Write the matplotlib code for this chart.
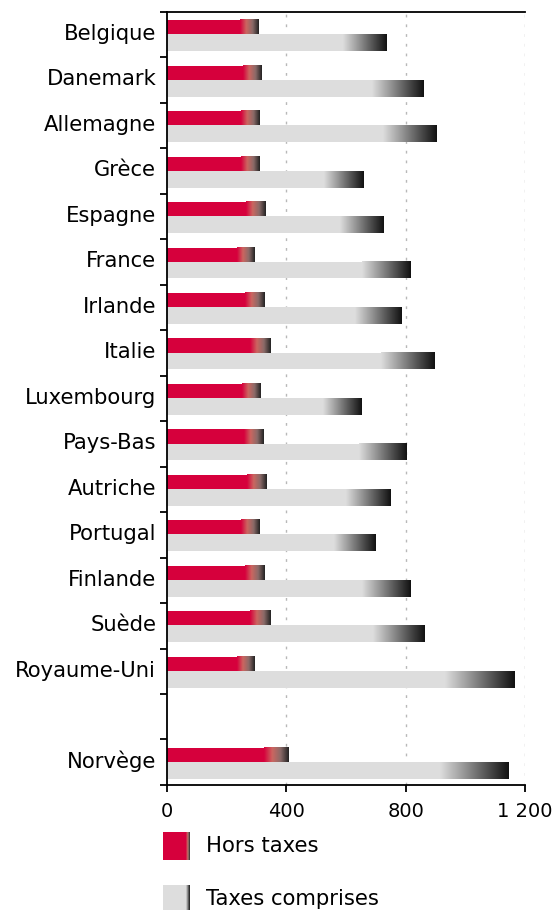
# encoding: utf-8
'''
Prix par pays : hors taxes / taxes comprises, barres horizontales groupées.
'''
import numpy as np
import matplotlib
matplotlib.use('Agg')
import matplotlib.pyplot as plt
from matplotlib.colors import LinearSegmentedColormap
from matplotlib.ticker import FixedLocator, FuncFormatter

countries = ['Belgique', 'Danemark', 'Allemagne', 'Grèce', 'Espagne', 'France',
             'Irlande', 'Italie', 'Luxembourg', 'Pays-Bas', 'Autriche', 'Portugal',
             'Finlande', 'Suède', 'Royaume-Uni', 'Norvège']
hors_taxes = [303, 317, 310, 308, 331, 291, 324, 345, 314, 321, 333, 308, 324, 345, 294, 404]
taxes_comprises = [738, 859, 906, 657, 723, 817, 788, 896, 654, 805, 748, 701, 818, 862, 1164, 1143]
x_ticks = [0, 400, 800, 1200]

RED = '#d6003c'
GREY = '#dddddd'
red_cmap = LinearSegmentedColormap.from_list('red_fade', [RED, '#cc6660', '#8a6a68', '#222222'])
grey_cmap = LinearSegmentedColormap.from_list('grey_fade', [GREY, '#9a9a9a', '#555555', '#111111'])
fade_start = 0.8

# slot positions: one empty slot before the last country
pos = [i if i < 15 else i + 1 for i in range(len(countries))]
n_slots = pos[-1] + 1

fig = plt.figure(figsize=(5.59, 9.10), dpi=100)
ax = fig.add_axes([0.2993, 0.1374, 0.9387 - 0.2993, 0.9868 - 0.1374])

h_red = 0.31
h_grey = 0.37
offset = 0.02
ramp = np.linspace(0, 1, 256).reshape(1, -1)


def fade_bar(y_top, height, value, color, cmap):
    x0 = value * fade_start
    ax.barh(y_top + height / 2, x0, height=height, color=color, linewidth=0, zorder=2)
    ax.imshow(ramp, cmap=cmap, extent=[x0, value, y_top + height, y_top],
              aspect='auto', interpolation='bilinear', zorder=2)


for p, ht, tc in zip(pos, hors_taxes, taxes_comprises):
    top = p - (h_red + h_grey) / 2 + offset
    fade_bar(top, h_red, ht, RED, red_cmap)
    fade_bar(top + h_red, h_grey, tc, GREY, grey_cmap)

ax.set_xlim(0, 1200)
ax.set_ylim(n_slots - 0.5, -0.5)

# grid
for x in x_ticks[1:]:
    ax.axvline(x, color='#b8b8b8', linewidth=1, linestyle=(0, (2, 5)), zorder=1)

# axes look
ax.spines['right'].set_visible(False)
for s in ['left', 'bottom', 'top']:
    ax.spines[s].set_linewidth(1.3)
    ax.spines[s].set_color('black')

ax.xaxis.set_major_locator(FixedLocator(x_ticks))
ax.xaxis.set_major_formatter(FuncFormatter(lambda v, _: '{:,}'.format(int(v)).replace(',', ' ')))
ax.tick_params(axis='x', direction='out', length=5, width=1.3, pad=7, labelsize=14)

ax.yaxis.set_major_locator(FixedLocator(np.arange(-0.5, n_slots, 1.0)))
ax.yaxis.set_major_formatter(FuncFormatter(lambda v, _: ''))
ax.yaxis.set_minor_locator(FixedLocator([p - 0.06 for p in pos]))
ax.yaxis.set_minor_formatter(FuncFormatter(lambda v, i: countries[i]))
ax.tick_params(axis='y', which='major', direction='out', length=5, width=1.3)
ax.tick_params(axis='y', which='minor', length=0, pad=8, labelsize=15.2)

# legend drawn in pixel space
leg = fig.add_axes([0, 0, 1, 1], zorder=-1)
leg.axis('off')
legend_items = [('Hors taxes', RED, red_cmap, 832), ('Taxes comprises', GREY, grey_cmap, 885)]
for label, color, cmap, y in legend_items:
    leg.add_patch(plt.Rectangle((163, y), 23, 28, color=color, linewidth=0))
    leg.imshow(ramp, cmap=cmap, extent=[186, 190, y + 28, y], aspect='auto', interpolation='bilinear')
    leg.text(206, y + 14, label, fontsize=15.2, va='center', ha='left')
leg.set_xlim(0, 559)
leg.set_ylim(910, 0)

fig.savefig('out.png', dpi=100)
